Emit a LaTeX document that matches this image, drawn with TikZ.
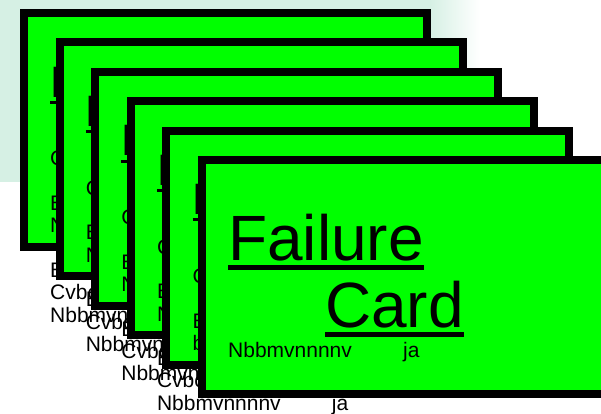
\documentclass[tikz,border=0pt]{standalone}
\usepackage{fontspec}
\setmainfont{Liberation Sans}
\usepackage{tikz}
\usetikzlibrary{positioning}
\definecolor{cardgreen}{RGB}{0,255,0}
\definecolor{mint}{RGB}{214,240,228}
\newcommand{\ulword}[1]{\setbox0\hbox{#1}\rlap{\rule[-0.155em]{\wd0}{0.07em}}\box0}

\begin{document}
\begin{tikzpicture}[
    x=1pt, y=-1pt,
    card/.style={draw=black, line width=8pt, fill=cardgreen, inner sep=0pt,
                 minimum width=403pt, minimum height=234pt, anchor=north west},
    bigtitle/.style={font=\fontsize{64}{67}\selectfont, inner sep=0pt, anchor=base west},
    smalltitle/.style={font=\fontsize{44}{46}\selectfont, inner sep=0pt, anchor=base west},
    cardtext/.style={font=\fontsize{21}{22.3}\selectfont, inner sep=0pt, align=left, anchor=base west}
]
    \useasboundingbox (0,0) rectangle (601,413);
    \clip (0,0) rectangle (601,413);
    \fill[white] (0,0) rectangle (601,413);
    \fill[mint] (0,0) rectangle (430,182);
    \shade[left color=mint, right color=white] (430,0) rectangle (480,182);

    % the stack behind (base of a multi-line node = its last line)
    \foreach \k in {0,...,3} {
        \node[card] (card\k) at (20+35.6*\k, 9+29.4*\k) {};
        \node[smalltitle] (title\k) [below right=88pt and 30pt of card\k.north west, anchor=base west] {\ulword{Failure}};
        \node[cardtext] (lines\k) [below right=313pt and 30pt of card\k.north west, anchor=base west]
            {Cvbcvbcvb\\\mbox{}\\Bnbnmbnm\\Nbbmvnnnnv\\\mbox{}\\Bnbnmbnm\\Cvbcvbcvb\\\makebox[175pt][l]{Nbbmvnnnnv}ja};
    }
    \node[card] (card4) at (20+35.6*4, 9+29.4*4) {};
    \node[smalltitle] (title4) [below right=88pt and 30pt of card4.north west, anchor=base west] {\ulword{Failure}};
    \node[cardtext] (lines4) [below right=224pt and 30pt of card4.north west, anchor=base west]
        {Cvbcvbcvb\\\mbox{}\\Bnbnmbnm\\bnbnmbnm};

    % front card
    \node[card] (front) at (20+35.6*5, 9+29.4*5) {};
    \node[bigtitle] (fail) [below right=104pt and 30pt of front.north west, anchor=base west] {\ulword{Failure}};
    \node[bigtitle] (word) [below right=171pt and 127pt of front.north west, anchor=base west] {\ulword{Card}};
    \node[cardtext] (sig)  [below right=201pt and 30pt of front.north west, anchor=base west] {\makebox[175pt][l]{Nbbmvnnnnv}ja};
\end{tikzpicture}
\end{document}
